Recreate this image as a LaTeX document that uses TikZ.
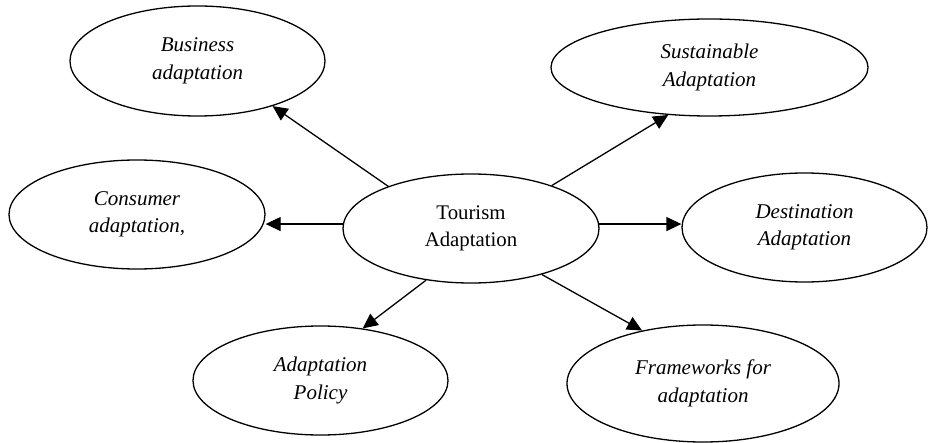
\documentclass[tikz,border=0pt]{standalone}
\usepackage{fontspec}
\setmainfont{Liberation Serif}
\usetikzlibrary{shapes.geometric,arrows.meta}
\tikzset{
  oval/.style={ellipse, draw, line width=1.3pt, inner sep=0pt, align=center,
    font=\fontsize{21}{27.5}\selectfont\itshape},
  conn/.style={line width=1.3pt, -{Triangle[length=15pt,width=14pt]}}
}
\begin{document}
\begin{tikzpicture}[x=1pt,y=-1pt]
\useasboundingbox (0,0) rectangle (928,443);
\node[oval, font=\fontsize{20.8}{27.5}\selectfont, minimum width=256pt, minimum height=109pt] (tour) at (471,228.5) {Tourism\\Adaptation};
\node[oval, minimum width=255pt, minimum height=110pt] (bus) at (197.5,61) {Business\\adaptation};
\node[oval, minimum width=256pt, minimum height=109pt] (cons) at (137,214.5) {Consumer\\adaptation,};
\node[oval, minimum width=255pt, minimum height=109pt] (pol) at (320.5,380.5) {Adaptation\\Policy};
\node[oval, minimum width=317pt, minimum height=97pt] (sus) at (709.5,67.5) {Sustainable\\Adaptation};
\node[oval, minimum width=245pt, minimum height=109pt] (dest) at (804.5,227.5) {Destination\\Adaptation};
\node[oval, minimum width=272pt, minimum height=117pt] (frame) at (703,383.5) {Frameworks for\\adaptation};
\draw[conn] (tour.153) -- (bus.-31);
\draw[conn] (tour.178) -- (tour.178 -| cons.east);
\draw[conn] (tour.229) -- (pol.51);
\draw[conn] (tour.28) -- (sus.229);
\draw[conn] (tour.2) -- (tour.2 -| dest.west);
\draw[conn] (tour.-33) -- (frame.139.5);
\end{tikzpicture}
\end{document}
